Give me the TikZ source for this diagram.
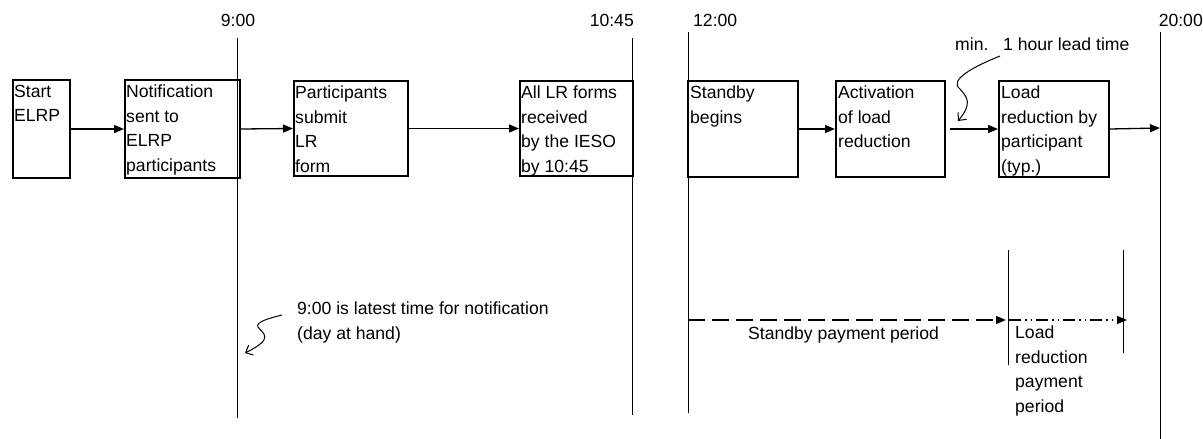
\documentclass[tikz,border=0pt]{standalone}
\usepackage{fontspec}
\setmainfont{Liberation Sans}
\usetikzlibrary{arrows.meta}
\begin{document}
\begin{tikzpicture}[x=1pt,y=-1pt,
  box/.style={draw, line width=2pt, inner sep=0pt, anchor=north west},
  txt/.style={inner sep=0pt, anchor=north west, align=left, font=\fontsize{17.6}{24.5}\selectfont},
  lbl/.style={inner sep=0pt, font=\fontsize{17.6}{24.5}\selectfont},
  arr/.style={line width=1.3pt, -{Triangle[length=10pt,width=8pt]}},
  vline/.style={line width=0.9pt},
  squig/.style={line width=1pt, -{Straight Barb[length=6pt,width=11pt]}},
  dashedarr/.style={line width=1.4pt, dash pattern=on 17pt off 7pt, -{Triangle[length=10pt,width=8pt]}},
  dotarr/.style={line width=1.2pt, dash pattern=on 12pt off 4pt on 1.5pt off 4pt on 1.5pt off 4pt, -{Triangle[length=10pt,width=8pt]}}
]
\useasboundingbox (0,0) rectangle (1203,439);

% time lines
\coordinate (t9a) at (237,38);   \coordinate (t9b) at (237,418);
\coordinate (t10a) at (632,38);  \coordinate (t10b) at (632,415);
\coordinate (t12a) at (688,32);  \coordinate (t12b) at (688,413);
\coordinate (t20a) at (1160,32); \coordinate (t20b) at (1160,439);
\draw[vline] (t9a) -- (t9b);
\draw[vline] (t10a) -- (t10b);
\draw[vline] (t12a) -- (t12b);
\draw[vline] (t20a) -- (t20b);

\node[lbl, anchor=base] (l9) at (238,27) {9:00};
\node[lbl, anchor=base east] (l1045) at (634,27) {10:45};
\node[lbl, anchor=base west] (l12) at (693,27) {12:00};
\node[lbl, anchor=base east] (l20) at (1203,27) {20:00};

% boxes
\node[box, minimum width=57pt, minimum height=98pt] (start) at (12,79) {};
\node[box, minimum width=115pt, minimum height=98pt] (notif) at (124,79) {};
\node[box, minimum width=114pt, minimum height=95pt] (part) at (293,80) {};
\node[box, minimum width=113pt, minimum height=95pt] (alr) at (519,80) {};
\node[box, minimum width=110pt, minimum height=96pt] (stby) at (687,80) {};
\node[box, minimum width=109pt, minimum height=96pt] (act) at (835,80) {};
\node[box, minimum width=110pt, minimum height=96pt] (load) at (998,80) {};

\node[txt] (tstart) at ([shift={(2,6)}]start.north west) {Start\\ELRP};
\node[txt] (tnotif) at ([shift={(2,6)}]notif.north west) {Notification\\sent to\\ELRP\\participants};
\node[txt] (tpart) at ([shift={(2,6)}]part.north west) {Participants\\submit\\LR\\form};
\node[txt] (talr) at ([shift={(2,6)}]alr.north west) {All LR forms\\received\\by the IESO\\by 10:45};
\node[txt] (tstby) at ([shift={(3,6)}]stby.north west) {Standby\\begins};
\node[txt] (tact) at ([shift={(3,6)}]act.north west) {Activation\\of load\\reduction};
\node[txt] (tload) at ([shift={(3,6)}]load.north west) {Load\\reduction by\\participant\\(typ.)};

% flow arrows
\draw[arr] (start.east) -- (notif.west);
\draw[arr] (notif.east) -- (part.west);
\draw[arr] (part.east) -- (alr.west);
\draw[arr] (stby.east) -- (act.west);
\draw[arr] ([xshift=4pt]act.east) -- (load.west);
\coordinate (e20) at (1160,128);
\draw[arr] (load.east) -- (e20);

% lead time note
\node[lbl, anchor=base west] (minl) at (955,50) {min.};
\node[lbl, anchor=base west] (leadl) at (1003,50) {1 hour lead time};
\coordinate (q0) at (1000,56);
\coordinate (q1) at (960,89);
\coordinate (q2) at (958,121);
\draw[squig] (q0) .. controls (975,66) and (948,80) .. (q1) .. controls (968,98) and (972,104) .. (q2);

% 9:00 note
\node[txt] (note9) at (297,302) {9:00 is latest time for notification\\(day at hand)};
\coordinate (p0) at (282,315);
\coordinate (p1) at (258,327);
\coordinate (p2) at (245,353);
\draw[squig] (p0) .. controls (270,318) and (255,322) .. (p1) .. controls (262,333) and (276,338) .. (p2);

% payment periods
\coordinate (sp0) at (688,320);
\coordinate (sp1) at (1006,320);
\coordinate (lp0) at (1009,320);
\coordinate (lp1) at (1127,320);
\draw[dashedarr] (sp0) -- (sp1);
\draw[dotarr] (lp0) -- (lp1);
\coordinate (m1a) at (1008,250); \coordinate (m1b) at (1008,365);
\coordinate (m2a) at (1123,250); \coordinate (m2b) at (1123,353);
\draw[vline] (m1a) -- (m1b);
\draw[vline] (m2a) -- (m2b);
\node[lbl, anchor=base west] (spp) at (748,339) {Standby payment period};
\node[txt] (lrp) at (1015,326) {Load\\reduction\\payment\\period};
\end{tikzpicture}
\end{document}
